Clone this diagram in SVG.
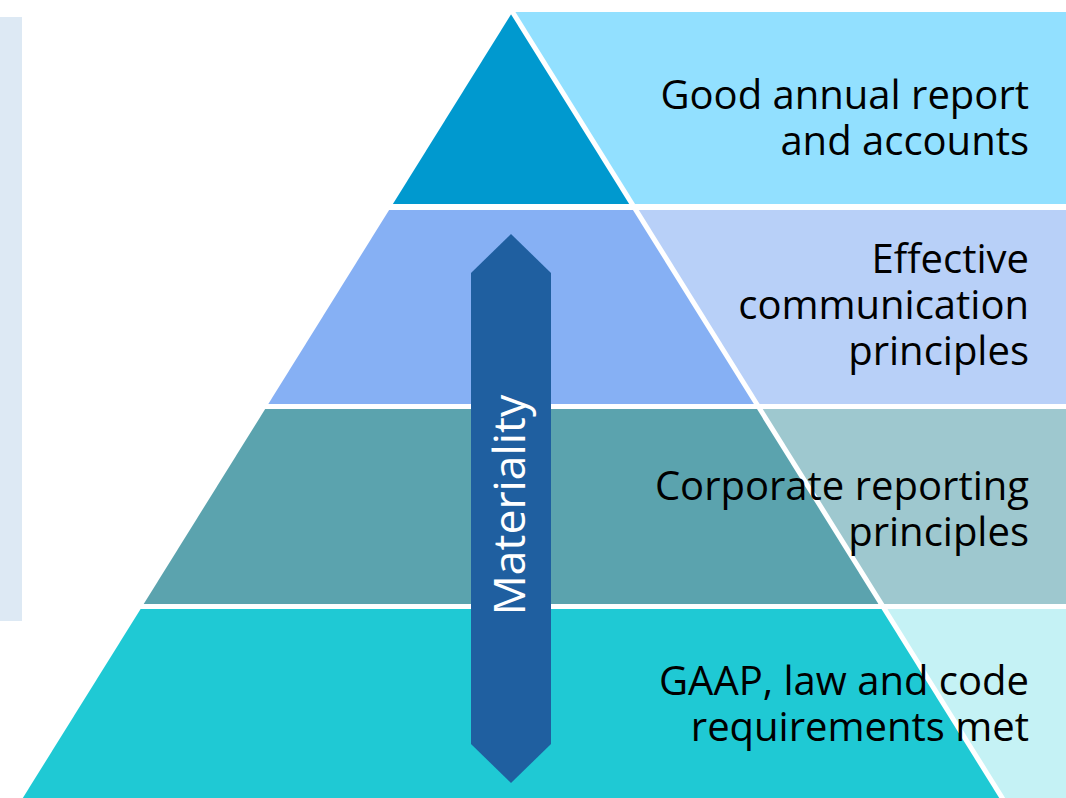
<svg xmlns="http://www.w3.org/2000/svg" width="1066" height="798" viewBox="0 0 1066 798">
  <style>
    .lbl { font-family: "Open Sans", "Noto Sans", "Liberation Sans", sans-serif; font-size: 40px; fill: #000000; text-anchor: end; }
    .arrowtxt { font-family: "Open Sans", "Noto Sans", "Liberation Sans", sans-serif; font-size: 44.5px; fill: #FFFFFF; text-anchor: middle; }
    .gap { stroke: #FFFFFF; stroke-width: 5; fill: none; }
  </style>
  <rect width="1066" height="798" fill="#FFFFFF"/>
  <rect id="side-strip" x="0" y="17" width="22" height="604" fill="#DDE9F4"/>

  <g id="level-1">
    <polygon points="512.5,12 1066,12 1066,204 632.1,204" fill="#92E0FF"/>
    <polygon points="512.5,12 632.1,204 392.9,204" fill="#0099CF"/>
    <text class="lbl" x="1029" y="109">Good annual report</text>
    <text class="lbl" x="1029" y="155">and accounts</text>
  </g>
  <g id="level-2">
    <polygon points="635.9,210 1066,210 1066,404 756.7,404" fill="#B8D0F8"/>
    <polygon points="389.1,210 635.9,210 756.7,404 268.3,404" fill="#86B0F4"/>
    <text class="lbl" x="1029" y="273">Effective</text>
    <text class="lbl" x="1029" y="319">communication</text>
    <text class="lbl" x="1029" y="365">principles</text>
  </g>
  <g id="level-3">
    <polygon points="759.8,409 1066,409 1066,604 881.3,604" fill="#9EC8CF"/>
    <polygon points="265.2,409 759.8,409 881.3,604 143.7,604" fill="#5BA3AE"/>
  </g>
  <g id="level-4">
    <polygon points="884.4,609 1066,609 1066,798 1002.2,798" fill="#C5F2F5"/>
    <polygon points="140.6,609 884.4,609 1002.2,798 22.8,798" fill="#1FC9D4"/>
  </g>
  <line class="gap" x1="508.8" y1="6" x2="1007.2" y2="806"/>
  <g id="level-3-text">
    <text class="lbl" x="1029" y="500">Corporate reporting</text>
    <text class="lbl" x="1029" y="546">principles</text>
  </g>
  <g id="level-4-text">
    <text class="lbl" x="1029" y="695">GAAP, law and code</text>
    <text class="lbl" x="1029" y="741">requirements met</text>
  </g>

  <g id="connectors">
    <g id="materiality-arrow">
      <polygon points="511,234 551,273 551,744 511,783 471,744 471,273" fill="#1F5FA0"/>
      <text class="arrowtxt" transform="translate(525,505) rotate(-90)">Materiality</text>
    </g>
  </g>
</svg>
